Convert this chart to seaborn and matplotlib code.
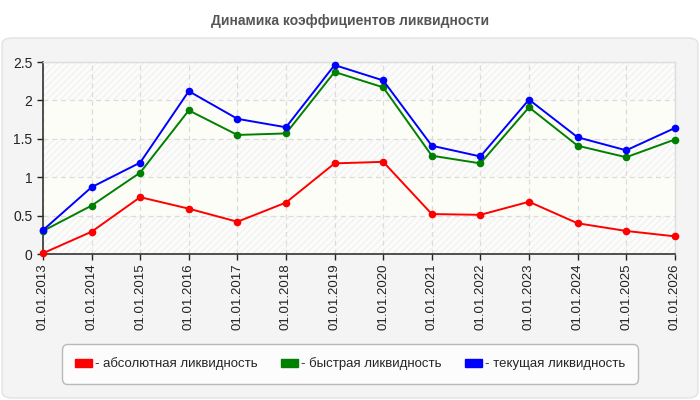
import pandas as pd
import matplotlib
matplotlib.use("Agg")
import matplotlib.pyplot as plt
from matplotlib.patches import FancyBboxPatch, Patch
from matplotlib.ticker import FuncFormatter
import seaborn as sns

# --- data ---
dates = ["01.01.2013", "01.01.2014", "01.01.2015", "01.01.2016", "01.01.2017",
         "01.01.2018", "01.01.2019", "01.01.2020", "01.01.2021", "01.01.2022",
         "01.01.2023", "01.01.2024", "01.01.2025", "01.01.2026"]
absolute = [0.01, 0.29, 0.74, 0.59, 0.42, 0.67, 1.18, 1.20, 0.52, 0.51, 0.68, 0.40, 0.30, 0.23]
quick = [0.30, 0.63, 1.06, 1.87, 1.55, 1.57, 2.37, 2.17, 1.28, 1.18, 1.91, 1.41, 1.26, 1.49]
current = [0.31, 0.87, 1.19, 2.12, 1.76, 1.65, 2.46, 2.26, 1.41, 1.27, 2.01, 1.52, 1.35, 1.64]
series_names = ["абсолютная ликвидность", "быстрая ликвидность", "текущая ликвидность"]
colors = ["#ff0000", "#008000", "#0000ff"]

df = pd.DataFrame({
    "pos": list(range(len(dates))) * 3,
    "value": absolute + quick + current,
    "series": [series_names[0]] * len(dates) + [series_names[1]] * len(dates) + [series_names[2]] * len(dates),
})

sns.set_style("white")
plt.rcParams["font.family"] = ["Liberation Sans", "DejaVu Sans"]
plt.rcParams["hatch.linewidth"] = 0.8

fig = plt.figure(figsize=(7, 4), dpi=100)
fig.patch.set_facecolor("white")

# outer rounded panel
panel = FancyBboxPatch((0.003, 0.005), 0.994, 0.9, boxstyle="round,pad=0,rounding_size=0.015",
                       transform=fig.transFigure, facecolor="#f4f4f4", edgecolor="#e2e2e2",
                       linewidth=1, zorder=-5)
fig.patches.append(panel)

fig.text(0.5, 0.948, "Динамика коэффициентов ликвидности", ha="center", va="center",
         fontsize=10, fontweight="bold", color="#555555")

ax = fig.add_axes([0.0614, 0.365, 0.9026, 0.48])
ax.set_facecolor("#fdfdf7")

# hatched / plain alternating bands
for lo in [0, 1, 2]:
    ax.axhspan(lo, lo + 0.5, facecolor="#fcfcfb", edgecolor="#f0f0f0", hatch="/////",
               linewidth=0, zorder=0)

sns.lineplot(data=df, x="pos", y="value", hue="series", palette=colors, marker="o",
             markersize=5.5, markeredgewidth=0, linewidth=1.4, legend=False, ax=ax,
             zorder=3, clip_on=False)

ax.set_xlim(0, len(dates) - 1)
ax.set_ylim(0, 2.5)
ax.set_xticks(range(len(dates)))
ax.set_xticklabels(dates, rotation=90, fontsize=9.5, color="#222222")
ax.set_yticks([0, 0.5, 1, 1.5, 2, 2.5])
ax.yaxis.set_major_formatter(FuncFormatter(lambda v, p: f"{v:g}"))
ax.tick_params(axis="y", labelsize=10, colors="#222222", length=4, width=1, direction="out", left=True)
ax.tick_params(axis="x", length=4, width=1, direction="out", bottom=True, pad=3)
ax.set_xlabel("")
ax.set_ylabel("")

ax.grid(True, linestyle=(0, (4, 3)), color="#dcdcdc", linewidth=0.9, zorder=1)
ax.set_axisbelow(True)

for side in ["top", "right"]:
    ax.spines[side].set_color("#dddddd")
    ax.spines[side].set_linewidth(1)
for side in ["left", "bottom"]:
    ax.spines[side].set_color("#333333")
    ax.spines[side].set_linewidth(1.2)

handles = [Patch(facecolor=c, edgecolor=c) for c in colors]
labels = ["- " + n for n in series_names]
leg = fig.legend(handles, labels, loc="center", bbox_to_anchor=(0.5, 0.09), ncol=3,
                 fontsize=9.5, frameon=True, handlelength=1.3, handleheight=0.6,
                 handletextpad=0.2, columnspacing=1.8, borderpad=1.0, fancybox=True)
frame = leg.get_frame()
frame.set_facecolor("white")
frame.set_edgecolor("#aaaaaa")
frame.set_linewidth(1)
frame.set_boxstyle("round,pad=0,rounding_size=0.4")

fig.savefig("out.png", dpi=100)
